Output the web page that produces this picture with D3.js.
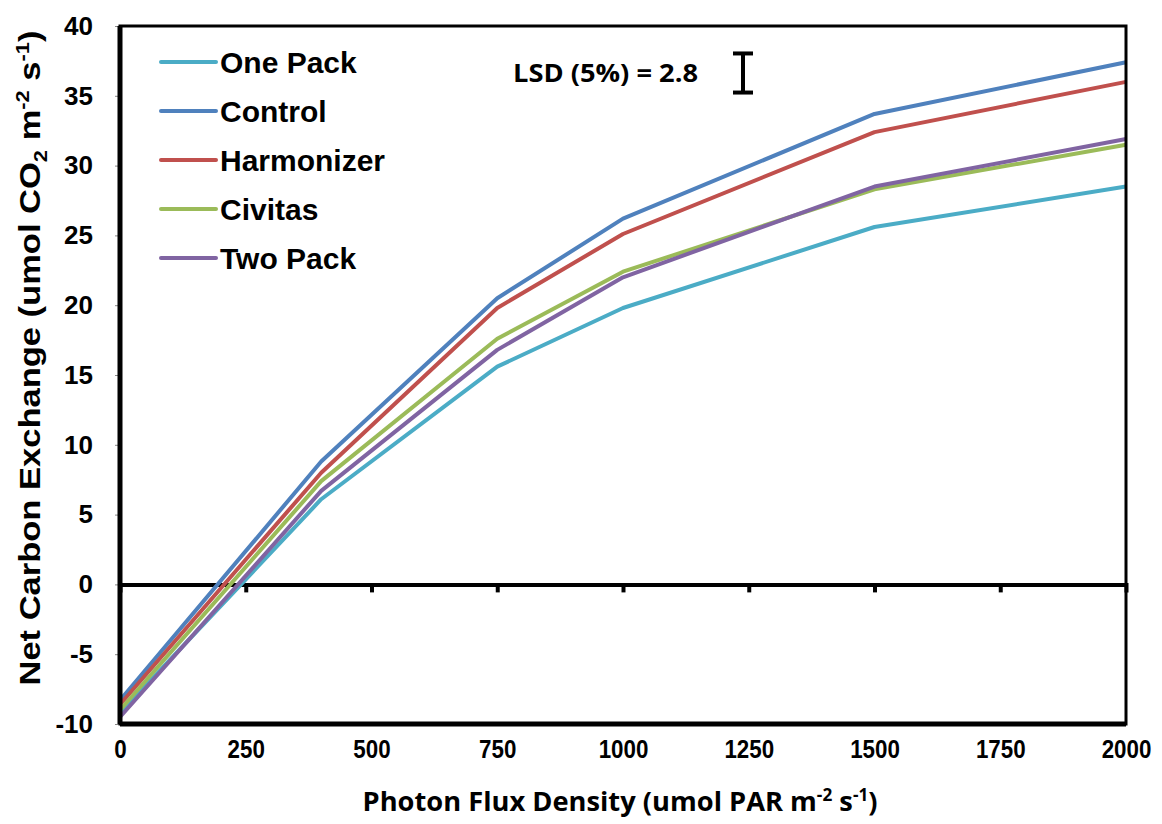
<!DOCTYPE html>
<html>
<head>
<meta charset="utf-8">
<script src="https://cdn.jsdelivr.net/npm/d3@7"></script>
<style>
  html, body { margin: 0; padding: 0; background: #fff; }
  svg { display: block; }
</style>
</head>
<body>
<svg id="chart" width="1162" height="824"></svg>
<script>
// Net carbon exchange light-response curves, one line per treatment.
const PPFD = [0, 400, 750, 1000, 1500, 2000];
const xTicks = [0, 250, 500, 750, 1000, 1250, 1500, 1750, 2000];
const yTicks = [-10, -5, 0, 5, 10, 15, 20, 25, 30, 35, 40];

const onePack    = [-9.2, 6.1, 15.6, 19.8, 25.6, 28.5];
const control    = [-8.3, 8.8, 20.5, 26.2, 33.7, 37.4];
const harmonizer = [-8.6, 8.0, 19.8, 25.1, 32.4, 36.0];
const civitas    = [-9.0, 7.4, 17.6, 22.4, 28.3, 31.5];
const twoPack    = [-9.5, 6.7, 16.8, 22.0, 28.5, 31.9];

const seriesNames  = ["One Pack", "Control", "Harmonizer", "Civitas", "Two Pack"];
const seriesValues = [onePack, control, harmonizer, civitas, twoPack];
const seriesColors = ["#4bacc6", "#4f81bd", "#c0504d", "#9bbb59", "#8064a2"];

const LSD = 2.8;

const svg = d3.select("#chart");
const M = { left: 120, right: 1126, top: 26, bottom: 724 };

const x = d3.scaleLinear().domain([0, 2000]).range([M.left, M.right]);
const y = d3.scaleLinear().domain([-10, 40]).range([M.bottom, M.top]);

const ARIAL = "'Liberation Sans', Arial, sans-serif";
const CALIBRI = "'Open Sans', 'Liberation Sans', sans-serif";
const plain = d => String(d); // keep ASCII hyphen, no thousands comma

// y axis labels + small outside ticks
const yAxis = svg.append("g")
  .attr("transform", `translate(${M.left},0)`)
  .call(d3.axisLeft(y).tickValues(yTicks).tickFormat(plain).tickSize(5).tickPadding(22));
yAxis.select(".domain").remove();
yAxis.selectAll(".tick line").attr("stroke", "#888").attr("stroke-width", 1);
yAxis.selectAll(".tick text")
  .attr("font-family", ARIAL).attr("font-size", 26).attr("font-weight", "bold")
  .attr("fill", "#000");

// x axis labels under the frame (slightly condensed, like the original)
const xAxis = svg.append("g")
  .attr("transform", `translate(0,${M.bottom})`)
  .call(d3.axisBottom(x).tickValues(xTicks).tickFormat(plain).tickSize(0).tickPadding(16));
xAxis.select(".domain").remove();
xAxis.selectAll(".tick text")
  .attr("font-family", ARIAL).attr("font-size", 26).attr("font-weight", "bold")
  .attr("fill", "#000")
  .attr("transform", "scale(0.86,1)");

// zero line with downward ticks
const zeroAxis = svg.append("g")
  .attr("transform", `translate(0,${y(0)})`)
  .call(d3.axisBottom(x).tickValues(xTicks.slice(1, -1)).tickSize(8).tickFormat(""));
zeroAxis.select(".domain").attr("stroke", "#000").attr("stroke-width", 4);
zeroAxis.selectAll(".tick line").attr("stroke", "#000").attr("stroke-width", 4);

// series lines
const line = d3.line().x((d, i) => x(PPFD[i])).y(d => y(d));
svg.append("g").selectAll("path")
  .data(seriesValues)
  .join("path")
  .attr("d", line)
  .attr("fill", "none")
  .attr("stroke", (d, i) => seriesColors[i])
  .attr("stroke-width", 4)
  .attr("stroke-linejoin", "round");

// frame
svg.append("rect")
  .attr("x", M.left).attr("y", M.top)
  .attr("width", M.right - M.left).attr("height", M.bottom - M.top)
  .attr("fill", "none").attr("stroke", "#000").attr("stroke-width", 3);
svg.append("line")
  .attr("x1", M.left).attr("x2", M.left).attr("y1", M.top).attr("y2", M.bottom)
  .attr("stroke", "#000").attr("stroke-width", 5);
svg.append("line")
  .attr("x1", M.left).attr("x2", M.right).attr("y1", M.bottom).attr("y2", M.bottom)
  .attr("stroke", "#000").attr("stroke-width", 5);

// legend
const legend = svg.append("g");
seriesNames.forEach((name, i) => {
  const ly = 62 + i * 49;
  legend.append("line")
    .attr("x1", 161).attr("x2", 216).attr("y1", ly).attr("y2", ly)
    .attr("stroke", seriesColors[i]).attr("stroke-width", 4).attr("stroke-linecap", "round");
  legend.append("text")
    .attr("x", 220).attr("y", ly).attr("dy", "0.36em")
    .attr("font-family", ARIAL).attr("font-size", 30).attr("font-weight", "bold")
    .attr("fill", "#000")
    .text(name);
});

// LSD annotation and bar
svg.append("text")
  .attr("x", 513).attr("y", 73).attr("dy", "0.36em")
  .attr("font-family", CALIBRI).attr("font-size", 25).attr("font-weight", "bold")
  .attr("textLength", 185).attr("lengthAdjust", "spacingAndGlyphs")
  .text(`LSD (5%) = ${LSD}`);
const barH = y(0) - y(LSD);
const barTop = 73 - barH / 2, barBot = 73 + barH / 2;
const bar = svg.append("g").attr("stroke", "#000").attr("stroke-width", 4);
bar.append("line").attr("x1", 743).attr("x2", 743).attr("y1", barTop).attr("y2", barBot);
bar.append("line").attr("x1", 733).attr("x2", 753).attr("y1", barTop).attr("y2", barTop);
bar.append("line").attr("x1", 733).attr("x2", 753).attr("y1", barBot).attr("y2", barBot);

// axis titles
const xt = svg.append("text")
  .attr("x", 620).attr("y", 811)
  .attr("text-anchor", "middle")
  .attr("font-family", CALIBRI).attr("font-size", 27).attr("font-weight", "bold")
  .attr("textLength", 515).attr("lengthAdjust", "spacingAndGlyphs");
xt.append("tspan").text("Photon Flux Density (umol PAR m");
xt.append("tspan").attr("dy", -10).attr("font-size", 17).text("-2");
xt.append("tspan").attr("dy", 10).text(" s");
xt.append("tspan").attr("dy", -10).attr("font-size", 17).text("-1");
xt.append("tspan").attr("dy", 10).text(")");

const yt = svg.append("text")
  .attr("transform", "translate(40,358) rotate(-90)")
  .attr("text-anchor", "middle")
  .attr("font-family", ARIAL).attr("font-size", 30).attr("font-weight", "bold")
  .attr("textLength", 655).attr("lengthAdjust", "spacingAndGlyphs");
yt.append("tspan").text("Net Carbon Exchange (umol CO");
yt.append("tspan").attr("dy", 7).attr("font-size", 19).text("2");
yt.append("tspan").attr("dy", -7).text(" m");
yt.append("tspan").attr("dy", -11).attr("font-size", 19).text("-2");
yt.append("tspan").attr("dy", 11).text(" s");
yt.append("tspan").attr("dy", -11).attr("font-size", 19).text("-1");
yt.append("tspan").attr("dy", 11).text(")");
</script>
</body>
</html>
